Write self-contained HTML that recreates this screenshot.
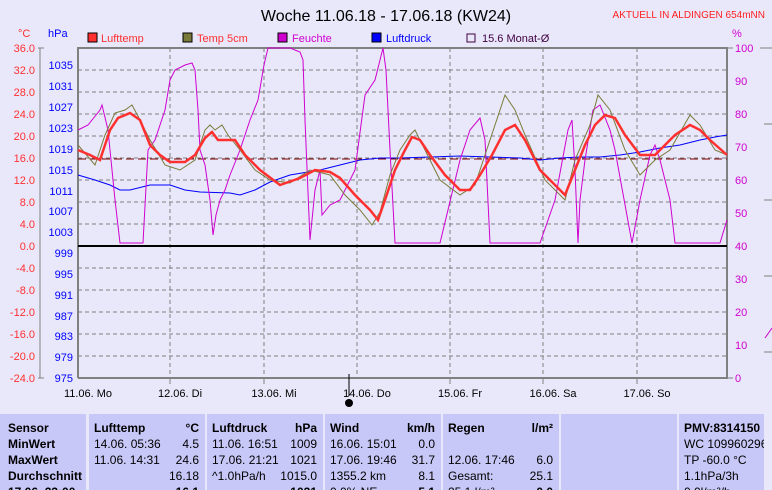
<!DOCTYPE html>
<html><head><meta charset="utf-8"><style>
body{margin:0;width:772px;height:490px;background:#e8e8fa;overflow:hidden;font-family:"Liberation Sans",sans-serif}
svg{position:absolute;left:0;top:0}
.tb{position:absolute;top:414px;height:76px;background:#c8c8f8;font-size:12px;line-height:16px;padding-top:6px;box-sizing:border-box;overflow:hidden;white-space:nowrap}
.tb div{height:16px;position:relative}
.r{position:absolute;right:6px;top:0}
b{font-weight:bold}
</style></head><body>
<svg width="772" height="490" font-family="Liberation Sans, sans-serif">
<text x="386" y="21" font-size="16" text-anchor="middle">Woche 11.06.18 - 17.06.18 (KW24)</text>
<text x="765" y="18" font-size="10" fill="#ff2020" text-anchor="end">AKTUELL IN ALDINGEN 654mNN</text>
<text x="18" y="37" font-size="11" fill="#ff3030">°C</text>
<text x="48" y="37" font-size="11" fill="#0000ff">hPa</text>
<text x="732" y="37" font-size="11" fill="#d000d0">%</text>
<rect x="88" y="33" width="9" height="9" fill="#ff3030" stroke="#000"/><text x="101" y="42" font-size="11" fill="#ff3030">Lufttemp</text>
<rect x="183" y="33" width="9" height="9" fill="#7a7a3a" stroke="#000"/><text x="197" y="42" font-size="11" fill="#ff3030">Temp 5cm</text>
<rect x="278" y="33" width="9" height="9" fill="#d000d0" stroke="#000"/><text x="292" y="42" font-size="11" fill="#d000d0">Feuchte</text>
<rect x="372" y="33" width="9" height="9" fill="#0000ff" stroke="#000"/><text x="386" y="42" font-size="11" fill="#0000ff">Luftdruck</text>
<rect x="467" y="34" width="8" height="8" fill="none" stroke="#400040"/><text x="482" y="42" font-size="11" fill="#400040">15.6 Monat-Ø</text>
<g stroke="#808080" stroke-dasharray="4,3" stroke-width="1">
<line x1="78" y1="70" x2="727" y2="70"/><line x1="78" y1="92" x2="727" y2="92"/><line x1="78" y1="114" x2="727" y2="114"/><line x1="78" y1="136" x2="727" y2="136"/><line x1="78" y1="158" x2="727" y2="158"/><line x1="78" y1="180" x2="727" y2="180"/><line x1="78" y1="202" x2="727" y2="202"/><line x1="78" y1="224" x2="727" y2="224"/><line x1="78" y1="268" x2="727" y2="268"/><line x1="78" y1="290" x2="727" y2="290"/><line x1="78" y1="312" x2="727" y2="312"/><line x1="78" y1="334" x2="727" y2="334"/><line x1="78" y1="356" x2="727" y2="356"/>
<line x1="170" y1="48" x2="170" y2="378"/><line x1="264" y1="48" x2="264" y2="378"/><line x1="357" y1="48" x2="357" y2="378"/><line x1="450" y1="48" x2="450" y2="378"/><line x1="543" y1="48" x2="543" y2="378"/><line x1="637" y1="48" x2="637" y2="378"/>
</g>
<polyline fill="none" stroke="#808080" stroke-width="2" points="78,378 78,48 727,48 727,378 78,378"/>
<g stroke="#808080"><line x1="38" y1="48" x2="44" y2="48"/><line x1="40" y1="48" x2="40" y2="378"/><line x1="38" y1="378" x2="44" y2="378"/>
<line x1="727" y1="48" x2="733" y2="48"/><line x1="727" y1="378" x2="733" y2="378"/>
<line x1="170" y1="378" x2="170" y2="384"/><line x1="264" y1="378" x2="264" y2="384"/><line x1="450" y1="378" x2="450" y2="384"/><line x1="543" y1="378" x2="543" y2="384"/><line x1="637" y1="378" x2="637" y2="384"/>
<line x1="760" y1="48" x2="772" y2="48"/><line x1="764" y1="124" x2="772" y2="124"/><line x1="764" y1="200" x2="772" y2="200"/><line x1="764" y1="276" x2="772" y2="276"/><line x1="764" y1="352" x2="772" y2="352"/></g>
<line x1="349" y1="374" x2="349" y2="396" stroke="#000"/><circle cx="349" cy="403" r="4" fill="#000"/>
<g font-size="11" fill="#ff3030" text-anchor="end">
<text x="35" y="52">36.0</text><text x="35" y="74">32.0</text><text x="35" y="96">28.0</text><text x="35" y="118">24.0</text><text x="35" y="140">20.0</text><text x="35" y="162">16.0</text><text x="35" y="184">12.0</text><text x="35" y="206">8.0</text><text x="35" y="228">4.0</text><text x="35" y="250">0.0</text><text x="35" y="272">-4.0</text><text x="35" y="294">-8.0</text><text x="35" y="316">-12.0</text><text x="35" y="338">-16.0</text><text x="35" y="360">-20.0</text><text x="35" y="382">-24.0</text></g>
<g font-size="11" fill="#0000ff" text-anchor="end">
<text x="73" y="69">1035</text><text x="73" y="90">1031</text><text x="73" y="111">1027</text><text x="73" y="132">1023</text><text x="73" y="153">1019</text><text x="73" y="174">1015</text><text x="73" y="195">1011</text><text x="73" y="215">1007</text><text x="73" y="236">1003</text><text x="73" y="257">999</text><text x="73" y="278">995</text><text x="73" y="299">991</text><text x="73" y="320">987</text><text x="73" y="340">983</text><text x="73" y="361">979</text><text x="73" y="382">975</text></g>
<g font-size="11" fill="#d000d0">
<text x="735" y="52">100</text><text x="735" y="85">90</text><text x="735" y="118">80</text><text x="735" y="151">70</text><text x="735" y="184">60</text><text x="735" y="217">50</text><text x="735" y="250">40</text><text x="735" y="283">30</text><text x="735" y="316">20</text><text x="735" y="349">10</text><text x="735" y="382">0</text></g>
<g font-size="11" text-anchor="middle">
<text x="88" y="397">11.06.  Mo</text><text x="180" y="397">12.06.  Di</text><text x="274" y="397">13.06.  Mi</text><text x="367" y="397">14.06.  Do</text><text x="460" y="397">15.06.  Fr</text><text x="553" y="397">16.06.  Sa</text><text x="647" y="397">17.06.  So</text></g>
<line x1="78" y1="246" x2="727" y2="246" stroke="#000" stroke-width="2"/>
<line x1="78" y1="159" x2="727" y2="159" stroke="#800000" stroke-dasharray="8,4"/>
<polyline fill="none" stroke="#0000ff" points="78,175 95,180 110,185 120,190 130,190 150,185 170,185 185,190 200,192 230,193 240,195 255,190 270,182 290,175 320,170 340,165 360,160 380,158 400,158 430,157 460,156 490,157 520,158 540,160 560,158 580,157 600,157 620,155 640,152 660,148 680,145 700,140 715,137 727,135"/>
<polyline fill="none" stroke="#d000d0" points="78,130 88,125 100,110 102,105 108,130 115,200 120,243 143,243 148,150 155,140 165,110 170,80 175,70 185,65 192,63 195,70 198,110 200,150 205,165 210,200 213,235 216,215 220,200 225,190 230,175 240,150 250,120 258,100 264,65 268,48 290,48 300,52 303,60 305,120 310,240 315,190 320,170 322,215 330,205 340,200 345,190 355,170 365,95 375,80 383,48 386,70 390,150 395,243 440,243 460,160 470,130 480,118 485,140 490,243 540,243 555,200 568,130 572,120 575,170 578,243 580,200 585,160 593,110 600,105 610,130 615,150 632,243 640,200 650,155 655,145 660,160 670,200 675,243 720,243 727,220"/>
<polyline fill="none" stroke="#7a7a3a" points="78,145 95,165 105,135 115,113 125,110 132,105 140,120 150,140 165,165 180,170 195,160 205,130 210,125 215,130 222,125 228,135 240,150 255,170 270,180 290,183 310,170 330,175 345,195 360,210 372,225 380,212 390,175 400,150 410,135 415,130 425,150 440,180 460,195 475,185 490,140 500,110 505,95 515,110 525,135 545,180 565,200 575,160 590,125 598,95 610,110 625,150 640,175 655,160 670,150 690,115 700,125 715,150 727,155"/>
<polyline fill="none" stroke="#ff3030" stroke-width="2.5" points="78,150 90,155 100,160 110,130 118,118 130,113 140,120 150,145 160,155 170,162 185,162 195,155 205,138 212,132 218,140 235,140 245,155 260,170 280,185 300,178 315,170 330,172 340,178 355,195 370,210 378,220 385,200 395,170 405,150 412,137 420,140 430,155 445,175 460,190 470,190 480,175 492,155 505,130 515,125 525,140 540,170 555,185 565,195 575,170 585,145 595,125 605,115 615,118 625,135 640,155 655,155 665,145 675,135 690,125 700,130 710,140 727,155"/>
<polyline fill="none" stroke="#d000d0" points="765,338 772,328"/>
</svg>
<div class="tb" style="left:0;width:86px;padding-left:8px"><div><b>Sensor</b></div><div><b>MinWert</b></div><div><b>MaxWert</b></div><div><b>Durchschnitt</b></div><div><b>17.06. 23:00</b></div></div>
<div class="tb" style="left:89px;width:116px;padding-left:5px"><div><b>Lufttemp</b><span class="r"><b>°C</b></span></div><div>14.06.  05:36<span class="r">4.5</span></div><div>11.06.  14:31<span class="r">24.6</span></div><div><span class="r">16.18</span></div><div><span class="r"><b>16.1</b></span></div></div>
<div class="tb" style="left:207px;width:116px;padding-left:5px"><div><b>Luftdruck</b><span class="r"><b>hPa</b></span></div><div>11.06.  16:51<span class="r">1009</span></div><div>17.06.  21:21<span class="r">1021</span></div><div>^1.0hPa/h<span class="r">1015.0</span></div><div><span class="r"><b>1021</b></span></div></div>
<div class="tb" style="left:325px;width:116px;padding-left:5px"><div><b>Wind</b><span class="r"><b>km/h</b></span></div><div>16.06.  15:01<span class="r">0.0</span></div><div>17.06.  19:46<span class="r">31.7</span></div><div>1355.2 km<span class="r">8.1</span></div><div>0.0% NE<span class="r"><b>5.1</b></span></div></div>
<div class="tb" style="left:443px;width:116px;padding-left:5px"><div><b>Regen</b><span class="r"><b>l/m²</b></span></div><div></div><div>12.06.  17:46<span class="r">6.0</span></div><div>Gesamt:<span class="r">25.1</span></div><div>25.1 l/m²<span class="r"><b>0.0</b></span></div></div>
<div class="tb" style="left:561px;width:116px"></div>
<div class="tb" style="left:679px;width:85px;padding-left:5px"><div><b>PMV:8314150</b></div><div>WC 109960296.</div><div>TP -60.0 °C</div><div>1.1hPa/3h</div><div>0.0l/m²/h</div></div>
</body></html>
